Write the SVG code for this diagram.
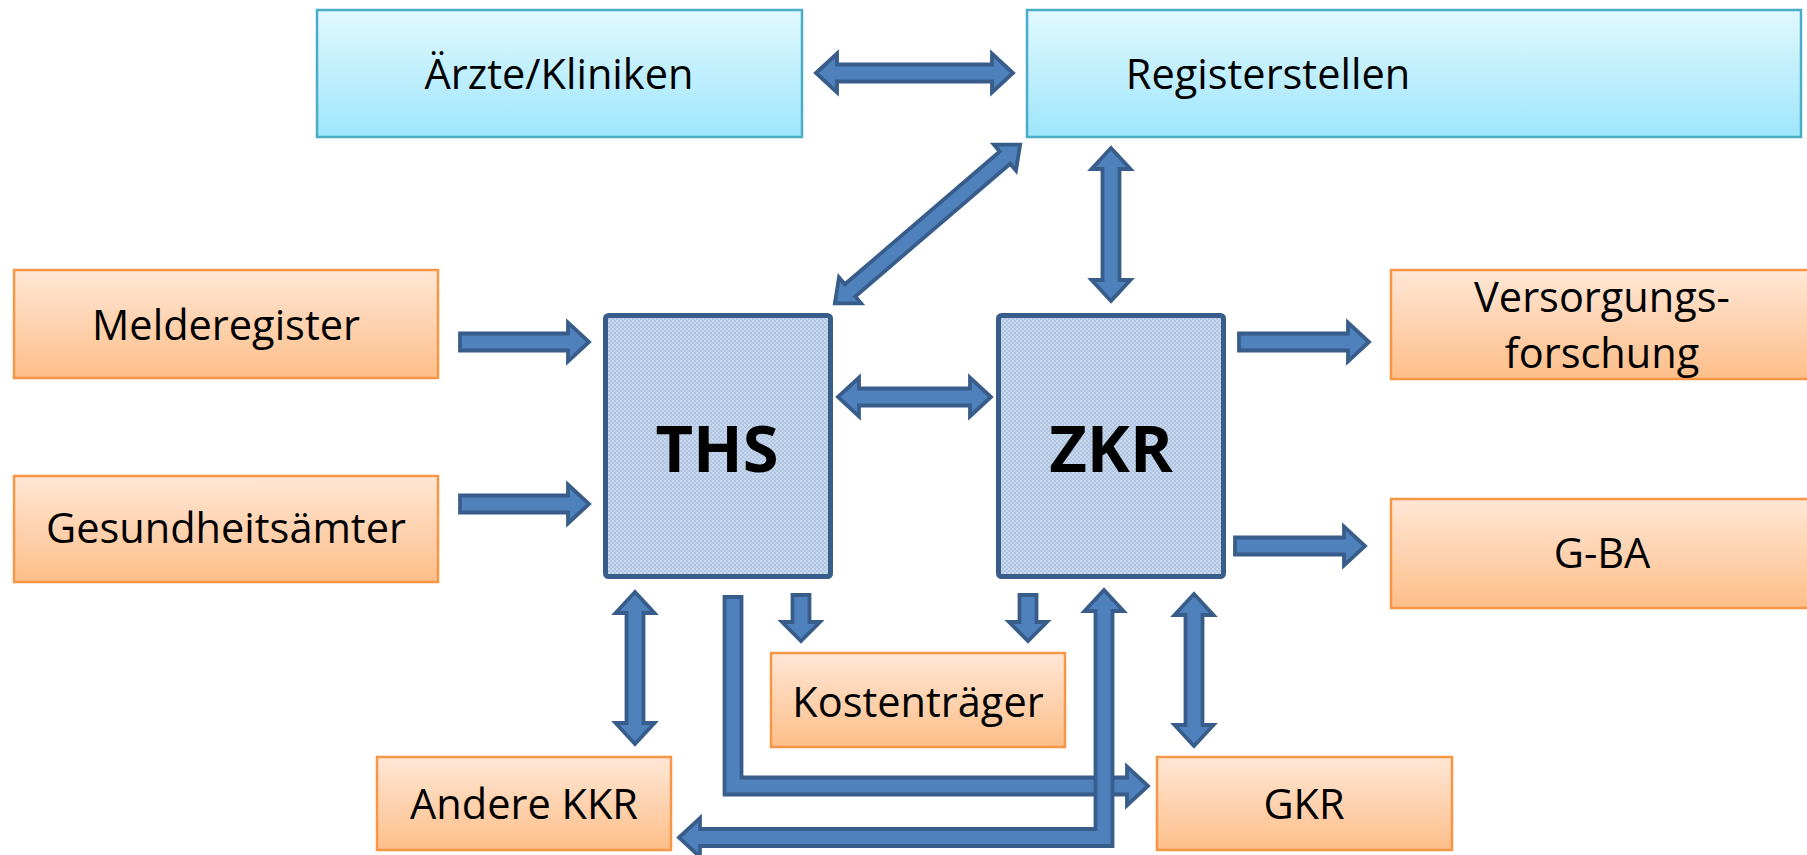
<svg xmlns="http://www.w3.org/2000/svg" width="1807" height="855" viewBox="0 0 1807 855">
<defs>
<linearGradient id="gBlue" x1="0" y1="0" x2="0" y2="1">
<stop offset="0" stop-color="#E1F8FE"/>
<stop offset="1" stop-color="#9FE6FC"/>
</linearGradient>
<linearGradient id="gOrange" x1="0" y1="0" x2="0" y2="1">
<stop offset="0" stop-color="#FFE7D6"/>
<stop offset="1" stop-color="#FDBE89"/>
</linearGradient>
<pattern id="pDots" width="4" height="4" patternUnits="userSpaceOnUse">
<rect width="4" height="4" fill="#B0C5E2"/>
<rect width="2" height="2" fill="#CBD9ED"/>
<rect x="2" y="2" width="2" height="2" fill="#C5D5EB"/>
</pattern>
</defs>
<style>
.lb{fill:url(#gBlue);stroke:#4BACC6;stroke-width:2.5}
.ob{fill:url(#gOrange);stroke:#F79646;stroke-width:2.5}
.cb{fill:url(#pDots);stroke:#385D8A;stroke-width:5}
.t{font-family:"Open Sans","Noto Sans","Liberation Sans",sans-serif;font-size:41.5px;fill:#000;text-anchor:middle}
.tb{font-family:"Open Sans","Noto Sans","Liberation Sans",sans-serif;font-size:65px;font-weight:bold;fill:#000;text-anchor:middle}
.ar{fill:#4F81BD;stroke:#385D8A;stroke-width:3.8;stroke-linejoin:miter}
</style>
<rect width="1807" height="855" fill="#fff"/>

<g id="aerzte">
<rect class="lb" x="317" y="10" width="485" height="127"/>
<text class="t" x="559" y="89">Ärzte/Kliniken</text>
</g>
<g id="registerstellen">
<rect class="lb" x="1027" y="10" width="774" height="127"/>
<text class="t" x="1268" y="89">Registerstellen</text>
</g>
<g id="melderegister">
<rect class="ob" x="14" y="270" width="424" height="108"/>
<text class="t" x="226" y="340">Melderegister</text>
</g>
<g id="gesundheitsaemter">
<rect class="ob" x="14" y="476" width="424" height="106"/>
<text class="t" x="226" y="543">Gesundheitsämter</text>
</g>
<g id="ths">
<rect class="cb" x="605.5" y="315.5" width="225" height="261" rx="3"/>
<text class="tb" x="717" y="472">THS</text>
</g>
<g id="zkr">
<rect class="cb" x="998.5" y="315.5" width="225" height="261" rx="3"/>
<text class="tb" x="1111" y="472">ZKR</text>
</g>
<g id="versorgungsforschung">
<rect class="ob" x="1391" y="270" width="424" height="109"/>
<text class="t" x="1602" y="312">Versorgungs-</text>
<text class="t" x="1602" y="368">forschung</text>
</g>
<g id="gba">
<rect class="ob" x="1391" y="499" width="424" height="109"/>
<text class="t" x="1602" y="568">G-BA</text>
</g>
<g id="kostentraeger">
<rect class="ob" x="771" y="653" width="294" height="94"/>
<text class="t" x="918" y="717">Kostenträger</text>
</g>
<g id="andere-kkr">
<rect class="ob" x="377" y="757" width="294" height="93"/>
<text class="t" x="524" y="819">Andere KKR</text>
</g>
<g id="gkr">
<rect class="ob" x="1157" y="757" width="295" height="93"/>
<text class="t" x="1304" y="819">GKR</text>
</g>

<g id="connectors">
<!-- Ärzte <-> Registerstellen -->
<path class="ar" d="M816,73 L837,53.5 L837,64.5 L992,64.5 L992,53.5 L1013,73 L992,92.5 L992,81.5 L837,81.5 L837,92.5 Z"/>
<!-- Registerstellen <-> THS (diagonal) -->
<path class="ar" transform="translate(927.5,224) rotate(-40.6)" d="M-122,0 L-102,-17 L-102,-8 L102,-8 L102,-17 L122,0 L102,17 L102,8 L-102,8 L-102,17 Z"/>
<!-- Registerstellen <-> ZKR -->
<path class="ar" d="M1111,148 L1130.5,169 L1119.5,169 L1119.5,280 L1130.5,280 L1111,301 L1091.5,280 L1102.5,280 L1102.5,169 L1091.5,169 Z"/>
<!-- Melderegister -> THS -->
<path class="ar" d="M460,333.5 L568,333.5 L568,322.5 L589,342 L568,361.5 L568,350.5 L460,350.5 Z"/>
<!-- Gesundheitsämter -> THS -->
<path class="ar" d="M460,495.5 L568,495.5 L568,484.5 L589,504 L568,523.5 L568,512.5 L460,512.5 Z"/>
<!-- THS <-> ZKR -->
<path class="ar" d="M838,397 L859,377.5 L859,388.5 L970,388.5 L970,377.5 L991,397 L970,416.5 L970,405.5 L859,405.5 L859,416.5 Z"/>
<!-- ZKR -> Versorgungsforschung -->
<path class="ar" d="M1239,333.5 L1348,333.5 L1348,322.5 L1369,342 L1348,361.5 L1348,350.5 L1239,350.5 Z"/>
<!-- ZKR -> G-BA -->
<path class="ar" d="M1235,537.5 L1344,537.5 L1344,526.5 L1365,546 L1344,565.5 L1344,554.5 L1235,554.5 Z"/>
<!-- THS <-> Andere KKR -->
<path class="ar" d="M635,592 L654.5,613 L643.5,613 L643.5,723 L654.5,723 L635,744 L615.5,723 L626.5,723 L626.5,613 L615.5,613 Z"/>
<!-- ZKR <-> GKR -->
<path class="ar" d="M1194,594 L1213.5,615 L1202.5,615 L1202.5,725 L1213.5,725 L1194,746 L1174.5,725 L1185.5,725 L1185.5,615 L1174.5,615 Z"/>
<!-- THS -> Kostenträger -->
<path class="ar" d="M792.5,595 L809.5,595 L809.5,622 L820,622 L801,641 L782,622 L792.5,622 Z"/>
<!-- ZKR -> Kostenträger -->
<path class="ar" d="M1019.5,595 L1036.5,595 L1036.5,622 L1047,622 L1028,641 L1009,622 L1019.5,622 Z"/>
<!-- THS -> GKR (bent) -->
<path class="ar" d="M724.5,597 L741.5,597 L741.5,777.5 L1127,777.5 L1127,766.5 L1148,786 L1127,805.5 L1127,794.5 L724.5,794.5 Z"/>
<!-- ZKR <-> Andere KKR (bent) -->
<path class="ar" d="M1104,590 L1123.5,611 L1112.5,611 L1112.5,846 L700,846 L700,857 L679,837.5 L700,818 L700,829 L1095.5,829 L1095.5,611 L1084.5,611 Z"/>
</g>
</svg>
